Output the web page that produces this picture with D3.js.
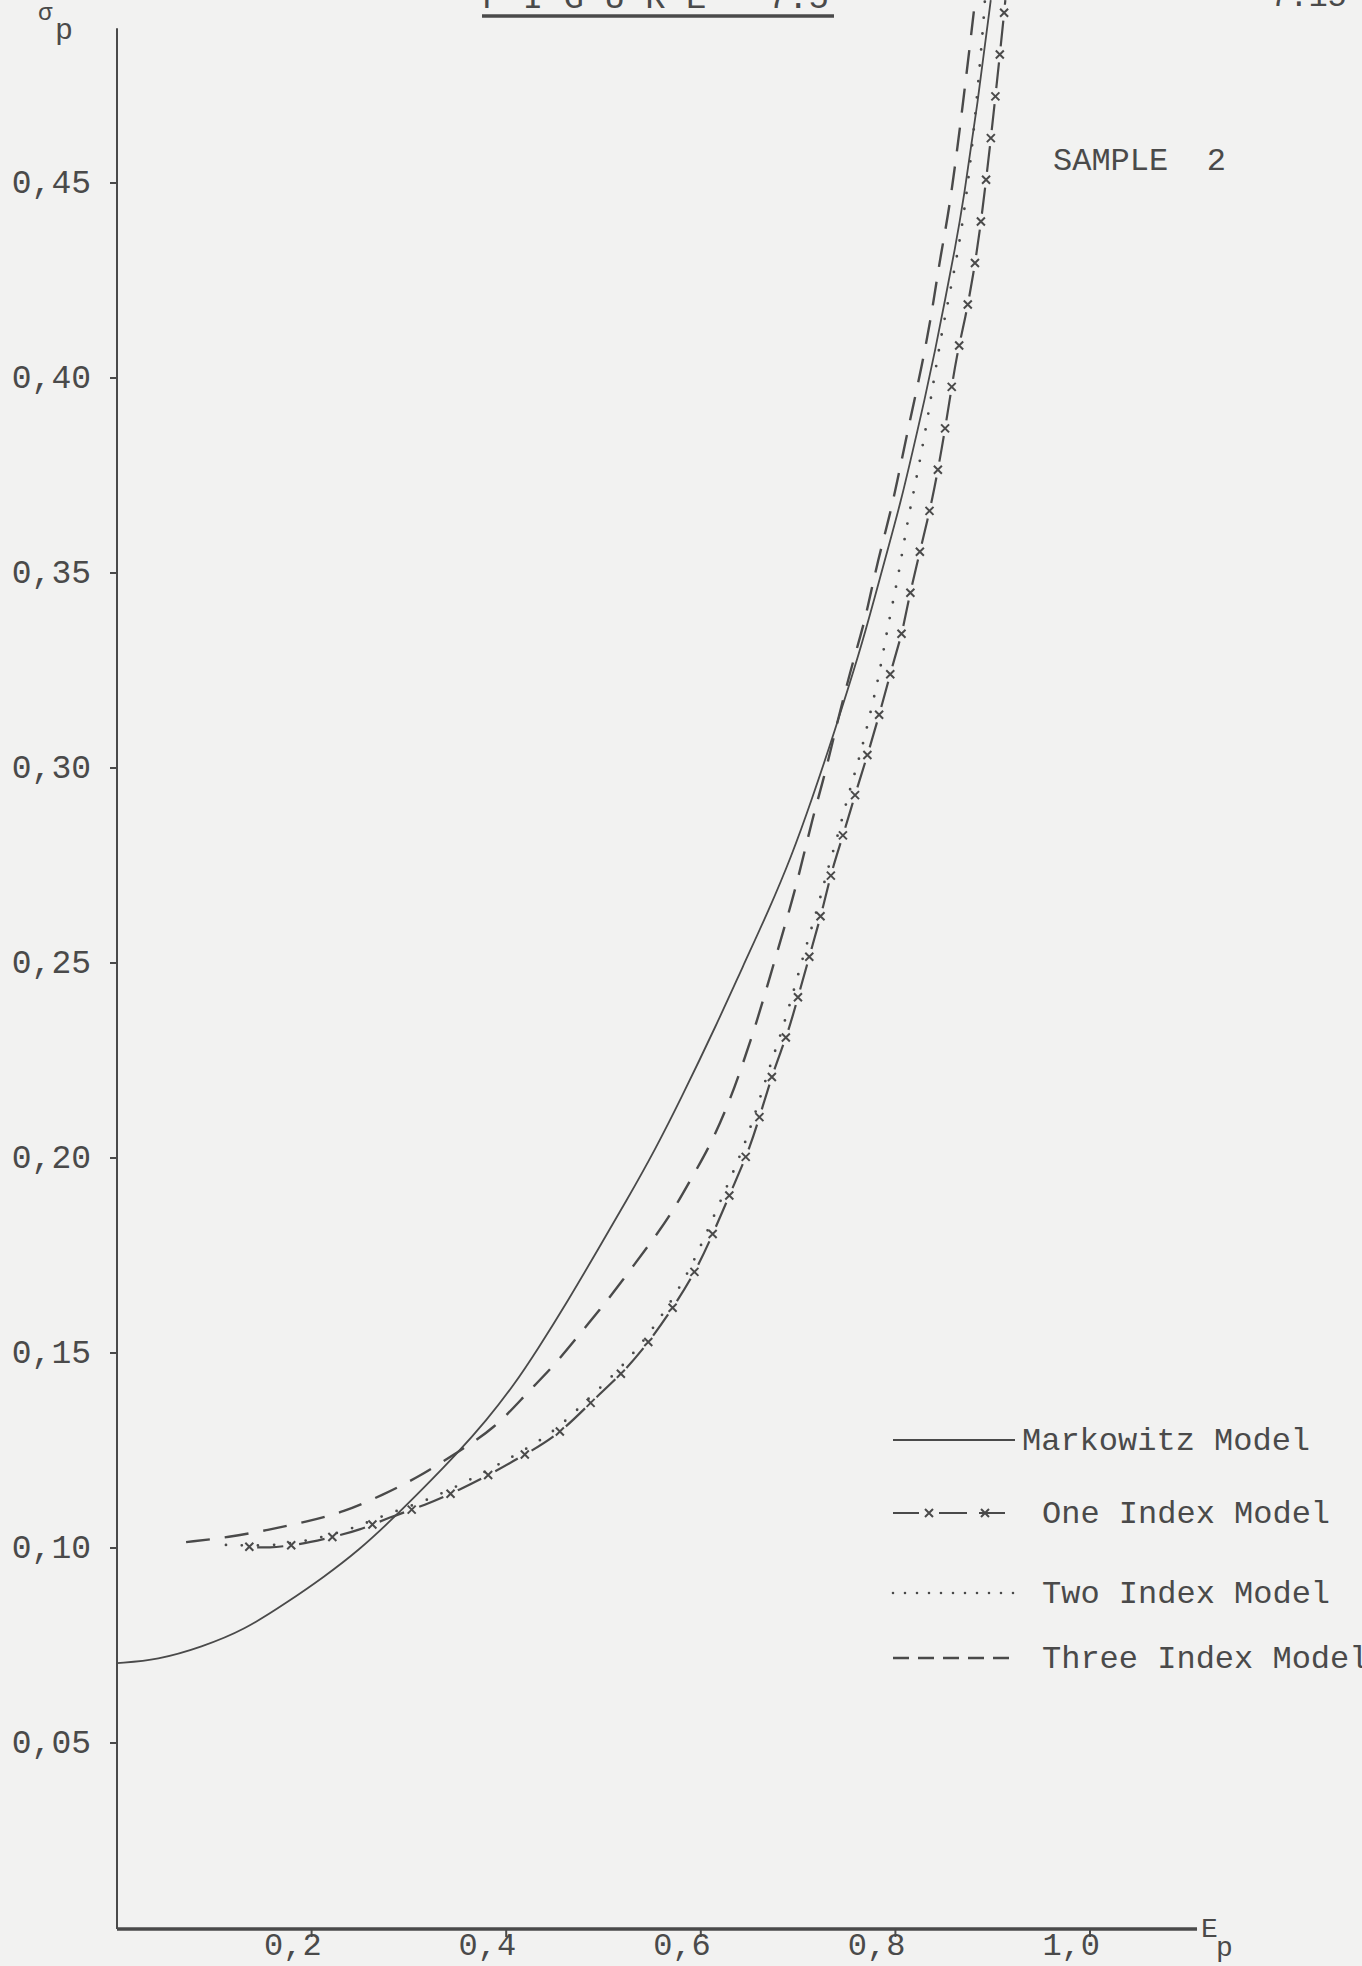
<!DOCTYPE html>
<html>
<head>
<meta charset="utf-8">
<script src="https://cdn.jsdelivr.net/npm/d3@7/dist/d3.min.js"></script>
<style>
  html, body { margin: 0; padding: 0; background: #f2f2f1; }
  svg { display: block; }
  text { font-family: "Liberation Mono", "DejaVu Sans Mono", monospace; fill: #4a4a4a; white-space: pre; }
</style>
</head>
<body>
<svg id="chart"></svg>
<script>
// Efficient frontiers, sample 2 (E_p against sigma_p)

const xTicks = [0.2, 0.4, 0.6, 0.8, 1.0];
const yTicks = [0.05, 0.10, 0.15, 0.20, 0.25, 0.30, 0.35, 0.40, 0.45];
const legendNames = ["Markowitz Model", "One Index Model", "Two Index Model", "Three Index Model"];

// [E_p, sigma_p]
const markowitz = [
  [0.000, 0.0705], [0.042, 0.0713], [0.087, 0.0746], [0.131, 0.0790], [0.174, 0.0859],
  [0.213, 0.0926], [0.249, 0.0995], [0.283, 0.1074], [0.316, 0.1156], [0.348, 0.1238],
  [0.380, 0.1328], [0.408, 0.1418], [0.432, 0.1508], [0.464, 0.1636], [0.494, 0.1764],
  [0.524, 0.1892], [0.553, 0.2021], [0.579, 0.2149], [0.617, 0.2346], [0.643, 0.2490],
  [0.670, 0.2636], [0.693, 0.2772], [0.714, 0.2918], [0.737, 0.3090], [0.764, 0.3303],
  [0.778, 0.3431], [0.792, 0.3559], [0.806, 0.3687], [0.818, 0.3815], [0.830, 0.3944],
  [0.841, 0.4072], [0.851, 0.4200], [0.861, 0.4328], [0.870, 0.4456], [0.885, 0.4713],
  [0.898, 0.4969]
];

const oneIndex = [
  [0.136, 0.1003], [0.155, 0.1000], [0.186, 0.1008], [0.218, 0.1026], [0.250, 0.1046],
  [0.278, 0.1077], [0.317, 0.1110], [0.352, 0.1149], [0.388, 0.1195], [0.418, 0.1238],
  [0.454, 0.1290], [0.489, 0.1379], [0.520, 0.1449], [0.546, 0.1526], [0.568, 0.1603],
  [0.594, 0.1705], [0.613, 0.1808], [0.633, 0.1926], [0.651, 0.2028], [0.664, 0.2136],
  [0.676, 0.2233], [0.690, 0.2323], [0.701, 0.2423], [0.714, 0.2538], [0.727, 0.2654],
  [0.734, 0.2733], [0.747, 0.2833], [0.760, 0.2944], [0.773, 0.3046], [0.787, 0.3169],
  [0.800, 0.3290], [0.807, 0.3346], [0.813, 0.3426], [0.826, 0.3564], [0.838, 0.3687],
  [0.848, 0.3823], [0.855, 0.3931], [0.863, 0.4059], [0.872, 0.4154], [0.880, 0.4264],
  [0.887, 0.4379], [0.897, 0.4585], [0.910, 0.4892], [0.913, 0.4969]
];

const twoIndex = [
  [0.112, 0.1008], [0.152, 0.1005], [0.184, 0.1013], [0.216, 0.1031], [0.247, 0.1054],
  [0.275, 0.1085], [0.314, 0.1118], [0.348, 0.1156], [0.384, 0.1203], [0.415, 0.1246],
  [0.451, 0.1300], [0.486, 0.1387], [0.516, 0.1456], [0.542, 0.1533], [0.564, 0.1610],
  [0.589, 0.1713], [0.607, 0.1815], [0.628, 0.1933], [0.645, 0.2033], [0.659, 0.2138],
  [0.671, 0.2236], [0.682, 0.2315], [0.694, 0.2415], [0.707, 0.2533], [0.721, 0.2649],
  [0.729, 0.2728], [0.741, 0.2828], [0.752, 0.2936], [0.764, 0.3033], [0.775, 0.3149],
  [0.784, 0.3246], [0.792, 0.3362], [0.803, 0.3490], [0.812, 0.3628], [0.822, 0.3746],
  [0.833, 0.3892], [0.846, 0.4097], [0.856, 0.4218], [0.868, 0.4372], [0.879, 0.4585],
  [0.890, 0.4892], [0.892, 0.4969]
];

const threeIndex = [
  [0.071, 0.1015], [0.116, 0.1028], [0.155, 0.1046], [0.194, 0.1067], [0.233, 0.1092],
  [0.273, 0.1136], [0.310, 0.1182], [0.349, 0.1244], [0.389, 0.1308], [0.421, 0.1397],
  [0.448, 0.1464], [0.473, 0.1541], [0.496, 0.1610], [0.520, 0.1687], [0.545, 0.1772],
  [0.568, 0.1849], [0.591, 0.1951], [0.611, 0.2038], [0.630, 0.2149], [0.641, 0.2226],
  [0.656, 0.2336], [0.671, 0.2464], [0.686, 0.2592], [0.699, 0.2705], [0.715, 0.2874],
  [0.728, 0.2987], [0.740, 0.3115], [0.754, 0.3251], [0.765, 0.3346], [0.771, 0.3405],
  [0.782, 0.3533], [0.795, 0.3654], [0.805, 0.3772], [0.815, 0.3892], [0.827, 0.4028],
  [0.838, 0.4174], [0.846, 0.4310], [0.856, 0.4438], [0.870, 0.4713], [0.882, 0.4969]
];

const W = 1362, H = 1966;
const ink = "#4a4a4a";

const svg = d3.select("#chart").attr("width", W).attr("height", H);

svg.append("rect").attr("width", W).attr("height", H).attr("fill", "#f2f2f1");

// scales
const x = d3.scaleLinear().domain([0, 1]).range([117, 1090]);
const y = d3.scaleLinear().domain([0, 0.45]).range([1938, 183]);

const xAxisY = y(0.0023);   // base line sits a bit above sigma = 0
const xEnd = x(1.11);
const yTop = y(0.4897);

// y axis
svg.append("line")
  .attr("x1", x(0)).attr("x2", x(0))
  .attr("y1", yTop).attr("y2", xAxisY)
  .attr("stroke", ink).attr("stroke-width", 2);

svg.selectAll(".ytick").data(yTicks).enter().append("line")
  .attr("class", "ytick")
  .attr("x1", x(0) - 7).attr("x2", x(0))
  .attr("y1", d => y(d)).attr("y2", d => y(d))
  .attr("stroke", ink).attr("stroke-width", 2);

svg.selectAll(".ylab").data(yTicks).enter().append("text")
  .attr("class", "ylab")
  .attr("x", x(0) - 26)
  .attr("y", d => y(d) + 10)
  .attr("text-anchor", "end")
  .style("font-size", "33px")
  .text(d => d3.format(".2f")(d).replace(".", ","));

// x axis
svg.append("line")
  .attr("x1", x(0)).attr("x2", xEnd)
  .attr("y1", xAxisY).attr("y2", xAxisY)
  .attr("stroke", ink).attr("stroke-width", 3.5);

svg.selectAll(".xtick").data(xTicks).enter().append("line")
  .attr("class", "xtick")
  .attr("x1", d => x(d)).attr("x2", d => x(d))
  .attr("y1", xAxisY).attr("y2", xAxisY + 8)
  .attr("stroke", ink).attr("stroke-width", 2);

svg.selectAll(".xlab").data(xTicks).enter().append("text")
  .attr("class", "xlab")
  .attr("x", d => x(d) + 10)
  .attr("y", xAxisY + 26)
  .attr("text-anchor", "end")
  .style("font-size", "32px")
  .text(d => d3.format(".1f")(d).replace(".", ","));

// axis names
svg.append("text").attr("x", xEnd + 4).attr("y", xAxisY + 8)
  .style("font-size", "28px").text("E");
svg.append("text").attr("x", xEnd + 19).attr("y", xAxisY + 27)
  .style("font-size", "28px").text("p");
svg.append("text").attr("x", 38).attr("y", 20)
  .style("font-size", "24px").text("σ");
svg.append("text").attr("x", 55).attr("y", 39)
  .style("font-size", "30px").text("p");

// title (cut off by the top of the page) and page number
svg.append("text").attr("x", 482).attr("y", 8)
  .style("font-size", "34px").text("F I G U R E   7.5");
svg.append("line")
  .attr("x1", 482).attr("x2", 834).attr("y1", 16).attr("y2", 16)
  .attr("stroke", ink).attr("stroke-width", 3.5);
svg.append("text").attr("x", 1270).attr("y", 6)
  .style("font-size", "32px").text("7.15");

svg.append("text").attr("x", 1053).attr("y", 170)
  .style("font-size", "32px").text("SAMPLE  2");

// curves
const line = d3.line()
  .x(d => x(d[0]))
  .y(d => y(d[1]))
  .curve(d3.curveBasis);

svg.append("path").datum(markowitz)
  .attr("d", line)
  .attr("fill", "none").attr("stroke", ink).attr("stroke-width", 1.8);

svg.append("path").datum(threeIndex)
  .attr("d", line)
  .attr("fill", "none").attr("stroke", ink).attr("stroke-width", 2.4)
  .attr("stroke-dasharray", "24,15");

svg.append("path").datum(twoIndex)
  .attr("d", line)
  .attr("fill", "none").attr("stroke", ink).attr("stroke-width", 2.8)
  .attr("stroke-linecap", "round")
  .attr("stroke-dasharray", "0,16");

const onePath = svg.append("path").datum(oneIndex)
  .attr("d", line)
  .attr("fill", "none").attr("stroke", ink).attr("stroke-width", 2.2)
  .attr("stroke-dasharray", "26,16")
  .attr("stroke-dashoffset", 34);

// x marks between the dashes of the one index curve
const node = onePath.node();
const len = node.getTotalLength();
const marks = d3.range(0, len, 42).map(s => node.getPointAtLength(s));
svg.selectAll(".xmark").data(marks).enter().append("path")
  .attr("class", "xmark")
  .attr("transform", d => `translate(${d.x},${d.y})`)
  .attr("d", "M-4,-4L4,4M-4,4L4,-4")
  .attr("stroke", ink).attr("stroke-width", 2);

// legend
const legX0 = 893, legX1 = 1017, legTextX = 1042;
const legY = [1440, 1513, 1593, 1658];

const leg = svg.selectAll(".leg").data(legendNames).enter().append("g")
  .attr("class", "leg")
  .attr("transform", (d, i) => `translate(0,${legY[i]})`);

leg.append("text")
  .attr("x", (d, i) => i === 0 ? 1022 : legTextX)
  .attr("y", 10)
  .style("font-size", "32px")
  .text(d => d);

const legStyle = [
  { dash: null, w: 1.8, cap: "butt" },
  { dash: "26,20,28,12,26", w: 2.2, cap: "butt" },
  { dash: "0,12", w: 2.6, cap: "round" },
  { dash: "16,9", w: 2.6, cap: "butt" }
];

leg.append("line")
  .attr("x1", legX0).attr("x2", (d, i) => i === 0 ? 1015 : legX1)
  .attr("y1", 0).attr("y2", 0)
  .attr("stroke", ink)
  .attr("stroke-width", (d, i) => legStyle[i].w)
  .attr("stroke-linecap", (d, i) => legStyle[i].cap)
  .attr("stroke-dasharray", (d, i) => legStyle[i].dash);

svg.selectAll(".legmark").data([929, 985]).enter().append("path")
  .attr("class", "legmark")
  .attr("transform", d => `translate(${d},${legY[1]})`)
  .attr("d", "M-4,-4L4,4M-4,4L4,-4")
  .attr("stroke", ink).attr("stroke-width", 2);
</script>
</body>
</html>
